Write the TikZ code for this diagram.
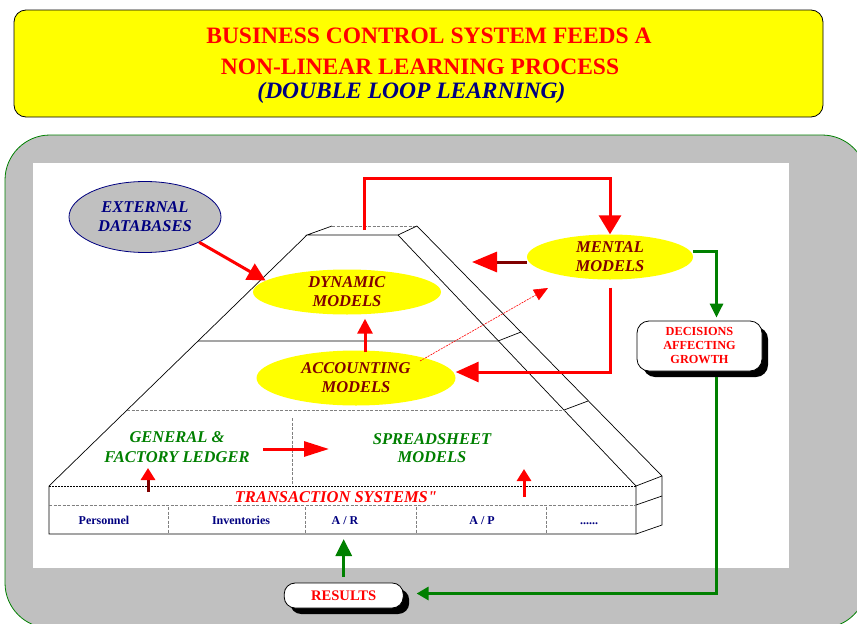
\documentclass[tikz,border=0pt]{standalone}
\usepackage{fontspec}
\setmainfont{Liberation Serif}
\newfontfamily\qfont{Liberation Serif}
\usetikzlibrary{arrows.meta,shapes.geometric,calc,shadows}
\definecolor{bgray}{HTML}{C0C0C0}
\definecolor{dred}{HTML}{800000}
\definecolor{navyc}{HTML}{000080}
\definecolor{dgreen}{HTML}{008000}
\definecolor{yel}{HTML}{FFFF00}
\begin{document}
\begin{tikzpicture}[x=1pt,y=-1pt,
  ell/.style={ellipse, fill=yel, draw=none, inner sep=0pt, text=dred,
    font=\fontsize{16.5}{19}\selectfont\bfseries\itshape, align=center},
  pedge/.style={black, line width=0.7pt},
  pdash/.style={gray, line width=0.7pt, dash pattern=on 3pt off 1.5pt},
  redarr/.style={red, line width=3pt},
  grnarr/.style={dgreen, line width=3pt},
  rowlbl/.style={font=\fontsize{12}{14}\selectfont\bfseries, text=navyc, anchor=base},
  levtxt/.style={font=\fontsize{16.5}{20}\selectfont\bfseries\itshape, text=dgreen, align=center},
  shbox/.style={draw=black, fill=white, line width=0.8pt, inner sep=0pt,
    drop shadow={shadow xshift=6pt, shadow yshift=-6pt, fill=black, opacity=1}},
  titl/.style={font=\fontsize{23.5}{28}\selectfont\bfseries, anchor=base},
]
\useasboundingbox (0,0) rectangle (857,624);

% title
\draw[fill=yel, rounded corners=12pt, line width=0.8pt] (14,10) rectangle (823,117);
\node[titl, text=red] (t1) at (429,43.5) {BUSINESS CONTROL SYSTEM FEEDS A};
\node[titl, text=red] (t2) at (420,74) {NON-LINEAR LEARNING PROCESS};
\node[titl, text=navyc, font=\fontsize{23.5}{28}\selectfont\bfseries\itshape] (t3) at (411.5,98) {(DOUBLE LOOP LEARNING)};

% panel
\begin{scope}
\clip (0,0) rectangle (857,624);
\draw[dgreen, fill=bgray, line width=0.8pt, rounded corners=45pt] (5,135) rectangle (867,628);
\end{scope}
\fill[white] (33,163) rectangle (789,568);

% pyramid
\draw[pdash] (332,226) -- (417,226);
\draw[pedge] (332,226) -- (307,235) -- (398,235) -- (417,226);
\draw[pedge] (307,235) -- (49,486) -- (49,534) -- (636,534) -- (662,525) -- (662,476) -- (417,226);
\draw[pedge] (398,235) -- (636,486) -- (636,534);
\draw[pedge] (636,486) -- (662,476);
\draw[black, line width=0.6pt, dash pattern=on 2pt off 1pt] (49,486) -- (636,486);
\draw[pdash] (49,505) -- (636,505);
\draw[pedge] (636,505) -- (662,496);
\draw[pedge] (198,341) -- (498,341) -- (521,332);
\draw[pdash] (127,410) -- (564,410);
\draw[pedge] (564,410) -- (588,401);
\draw[pdash] (292,418) -- (292,484);
\foreach \xx in {168,305,416,546} \draw[pdash] (\xx,507) -- (\xx,533);

% row labels
\node[rowlbl] (pers) at (104,524) {Personnel};
\node[rowlbl] (inv) at (241,524) {Inventories};
\node[rowlbl] (ar) at (345,524) {A / R};
\node[rowlbl] (ap) at (482,524) {A / P};
\node[rowlbl] (dots) at (589,524) {......};
\node[font=\qfont\fontsize{16.5}{20}\selectfont\bfseries\itshape, text=red] (trans) at (336,497) {TRANSACTION SYSTEMS"};

\node[levtxt] (gen) at (177,447) {GENERAL \&\\FACTORY LEDGER};
\node[levtxt, font=\fontsize{16.5}{18}\selectfont\bfseries\itshape] (spr) at (432,448) {SPREADSHEET\\MODELS};

% ellipses
\node[ellipse, fill=bgray, draw=navyc, line width=0.8pt, inner sep=0pt, minimum width=152pt, minimum height=71pt,
  text=navyc, font=\fontsize{16.5}{19}\selectfont\bfseries\itshape, align=center] (ext) at (145,217) {EXTERNAL\\DATABASES};
\node[ell, minimum width=188pt, minimum height=45pt] (dyn) at (347,292) {DYNAMIC\\MODELS};
\node[ell, minimum width=199pt, minimum height=55pt] (acc) at (356,378) {ACCOUNTING\\MODELS};
\node[ell, minimum width=166pt, minimum height=45pt] (ment) at (610,257) {MENTAL\\MODELS};

% boxes
\node[shbox, rounded corners=12pt, minimum width=125pt, minimum height=50pt, text=red,
  font=\fontsize{12.3}{14}\selectfont\bfseries, align=center] (decis) at (699.5,346) {DECISIONS\\AFFECTING\\GROWTH};
\node[shbox, rounded corners=11pt, minimum width=119pt, minimum height=25pt, text=red,
  font=\fontsize{14.6}{16}\selectfont\bfseries] (res) at (343.7,595.5) {RESULTS};

% coordinates
\coordinate (ptop) at (364,230);
\coordinate (mtip) at (472,262);
\coordinate (glA) at (263,449);
\coordinate (glB) at (329,449);
\coordinate (upAb) at (148,492);
\coordinate (upAt) at (148,468);
\coordinate (upBb) at (524,497);
\coordinate (upBt) at (524,469);
\coordinate (arT) at (343.7,539);

% red connectors
\draw[redarr, -{Triangle[length=18pt,width=18pt]}] (ext.-25) -- (dyn.172);
\draw[redarr, -{Triangle[length=19pt,width=22pt]}] (ptop) -- ++(0,-52) -| (ment.north);
\draw[dred, line width=3pt, -{Triangle[length=25pt,width=20pt,color=red]}] ([yshift=-5pt]ment.west) -- (mtip);
\draw[redarr, -{Triangle[length=23pt,width=20pt]}] ([yshift=-8pt]ment.south) |- ([yshift=6pt]acc.east);
\draw[red, line width=0.6pt, dash pattern=on 2pt off 1pt, -{Triangle[length=14pt,width=12pt]}] ($(acc)+(64,-17)$) -- ($(ment)+(-62,31)$);
\draw[redarr, -{Triangle[length=15pt,width=15pt]}] ([xshift=9pt,yshift=-2pt]acc.north) -- ([xshift=9pt,yshift=-4pt]acc.north |- dyn.south);
\draw[redarr, -{Triangle[length=25pt,width=15pt]}] (glA) -- (glB);
\draw[dred, line width=3pt, -{Triangle[length=12pt,width=14pt,color=red]}] (upAb) -- (upAt);
\draw[redarr, -{Triangle[length=12pt,width=14pt]}] (upBb) -- (upBt);

% green connectors
\draw[grnarr, -{Triangle[length=14pt,width=13pt]}] ([yshift=6pt]ment.east) -| ([xshift=17pt,yshift=3pt]decis.north);
\draw[grnarr, -{Triangle[length=12pt,width=13pt]}] ([xshift=17pt,yshift=-6pt]decis.south) |- ([xshift=13pt,yshift=2pt]res.east);
\draw[grnarr, -{Triangle[length=17pt,width=16pt]}] ([yshift=6pt]res.north) -- (res.north |- arT);
\end{tikzpicture}
\end{document}
